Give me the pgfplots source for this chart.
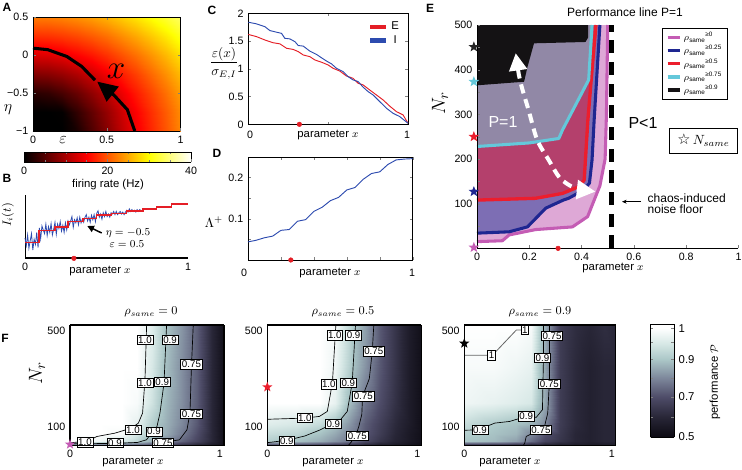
\documentclass[border=0pt]{standalone}
\usepackage{amsmath}
\usepackage{pgfplots}
\pgfplotsset{compat=1.18}
\usepackage{fontspec}
\setmainfont{Liberation Sans}
\newfontfamily\dejavu{DejaVu Sans}
\usetikzlibrary{arrows.meta}

\newcommand{\fs}[1]{\fontsize{#1}{#1}\selectfont}

\definecolor{cE}{RGB}{228,30,38}
\definecolor{cI}{RGB}{45,75,175}
\definecolor{lnA}{RGB}{196,92,180}
\definecolor{fiA}{RGB}{222,168,214}
\definecolor{lnB}{RGB}{30,38,145}
\definecolor{fiB}{RGB}{125,110,180}
\definecolor{lnC}{RGB}{236,30,45}
\definecolor{fiC}{RGB}{180,64,108}
\definecolor{lnD}{RGB}{100,200,218}
\definecolor{fiD}{RGB}{145,136,166}
\definecolor{fiE}{RGB}{20,18,20}

\pgfdeclareplotmark{fstar}{%
  \pgfpathmoveto{\pgfpointpolar{90}{\pgfplotmarksize}}%
  \pgfpathlineto{\pgfpointpolar{126}{0.42\pgfplotmarksize}}%
  \pgfpathlineto{\pgfpointpolar{162}{\pgfplotmarksize}}%
  \pgfpathlineto{\pgfpointpolar{198}{0.42\pgfplotmarksize}}%
  \pgfpathlineto{\pgfpointpolar{234}{\pgfplotmarksize}}%
  \pgfpathlineto{\pgfpointpolar{270}{0.42\pgfplotmarksize}}%
  \pgfpathlineto{\pgfpointpolar{306}{\pgfplotmarksize}}%
  \pgfpathlineto{\pgfpointpolar{342}{0.42\pgfplotmarksize}}%
  \pgfpathlineto{\pgfpointpolar{18}{\pgfplotmarksize}}%
  \pgfpathlineto{\pgfpointpolar{54}{0.42\pgfplotmarksize}}%
  \pgfpathclose\pgfusepathqfill}

\tikzset{clab/.style={draw=black, fill=white, inner sep=0.9pt, font=\fs{7.3}, line width=0.45pt}}

\pgfplotsset{
  colormap={hotm}{rgb255(0)=(0,0,0) rgb255(3)=(255,0,0) rgb255(6)=(255,255,0) rgb255(8)=(255,255,255)},
  colormap={perf}{rgb255(0)=(12,10,18) rgb255(20)=(40,38,55) rgb255(40)=(78,76,104) rgb255(60)=(125,135,155) rgb255(80)=(172,200,200) rgb255(90)=(215,232,230) rgb255(100)=(255,255,255)},
  every axis/.append style={scale only axis, anchor=north west,
    tick label style={font=\fs{8}}, /pgf/number format/assume math mode=true},
  fpanel/.style={view={0}{90}, colormap name=perf, point meta min=0.5, point meta max=1,
    xmin=0, xmax=1.027, ymin=20, ymax=525, xtick={0,1}, ytick={100,500},
    major tick length=0pt, axis line style={line width=1.1pt}, clip=false, axis on top,
    width=115.5pt, height=90.4pt},
}

\begin{document}
\begin{tikzpicture}
\path[use as bounding box] (0pt,0pt) rectangle (556.5pt,-351.75pt);

% ---------- A: firing rate map
\begin{axis}[at={(24.75pt,-12.75pt)}, width=110.6pt, height=85.5pt,
  view={0}{90}, colormap name=hotm, point meta min=0, point meta max=40,
  xmin=0, xmax=1, ymin=-1, ymax=0.5,
  xtick={0,0.5,1}, xticklabels={0,0.5,1},
  ytick={-1,-0.5,0,0.5}, yticklabels={−1,−0.5,0,0.5},
  major tick length=2pt, axis on top, clip=false]
\addplot3[surf, shader=interp, mesh/cols=11] coordinates {
(0,-1,0) (0.1,-1,0) (0.2,-1,0) (0.3,-1,1.5) (0.4,-1,4.7) (0.5,-1,7.9) (0.6,-1,11.1) (0.7,-1,14.3) (0.8,-1,17.2) (0.9,-1,20) (1,-1,22.8)
(0,-0.75,0) (0.1,-0.75,0) (0.2,-0.75,0.2) (0.3,-0.75,2.9) (0.4,-0.75,5.8) (0.5,-0.75,8.8) (0.6,-0.75,11.8) (0.7,-0.75,14.9) (0.8,-0.75,17.7) (0.9,-0.75,20.4) (1,-0.75,23.1)
(0,-0.5,2.4) (0.1,-0.5,2.9) (0.2,-0.5,4.2) (0.3,-0.5,6.1) (0.4,-0.5,8.5) (0.5,-0.5,11) (0.6,-0.5,13.8) (0.7,-0.5,16.5) (0.8,-0.5,19) (0.9,-0.5,21.6) (1,-0.5,24.2)
(0,-0.25,7.6) (0.1,-0.25,8) (0.2,-0.25,8.9) (0.3,-0.25,10.3) (0.4,-0.25,12.2) (0.5,-0.25,14.3) (0.6,-0.25,16.5) (0.7,-0.25,18.7) (0.8,-0.25,21.1) (0.9,-0.25,23.5) (1,-0.25,25.9)
(0,0,12.9) (0.1,0,13.1) (0.2,0,13.8) (0.3,0,15) (0.4,0,16.3) (0.5,0,17.9) (0.6,0,19.7) (0.7,0,21.6) (0.8,0,23.7) (0.9,0,25.9) (1,0,28.2)
(0,0.25,17.7) (0.1,0.25,17.9) (0.2,0.25,18.4) (0.3,0.25,19.2) (0.4,0.25,20.3) (0.5,0.25,21.6) (0.6,0.25,23.2) (0.7,0.25,24.9) (0.8,0.25,26.8) (0.9,0.25,28.8) (1,0.25,30.9)
(0,0.5,22.3) (0.1,0.5,22.4) (0.2,0.5,22.8) (0.3,0.5,23.5) (0.4,0.5,24.4) (0.5,0.5,25.6) (0.6,0.5,27) (0.7,0.5,28.5) (0.8,0.5,30.2) (0.9,0.5,32) (1,0.5,33.9)
};
\addplot3[black, line width=2.3pt] coordinates {(0,0.09,40) (0.1,0.07,40) (0.23,-0.02,40) (0.33,-0.15,40) (0.42,-0.33,40)};
\addplot3[black, line width=2.3pt, -{Triangle[length=15pt,width=14pt]}] coordinates {(0.69,-1,40) (0.64,-0.72,40) (0.55,-0.53,40) (0.435,-0.35,40)};
\end{axis}

% colour bar of A
\begin{axis}[at={(18pt,-114pt)}, width=125.25pt, height=7.5pt, view={0}{90},
  colormap name=hotm, point meta min=0, point meta max=40,
  xmin=0, xmax=40, ymin=0, ymax=1, ytick=\empty, xtick={0,20,40},
  minor xtick={5,10,15,25,30,35}, major tick length=2pt, minor tick length=1.5pt, axis on top]
\addplot3[surf, shader=interp, mesh/cols=9] coordinates {
(0,0,0) (5,0,5) (10,0,10) (15,0,15) (20,0,20) (25,0,25) (30,0,30) (35,0,35) (40,0,40)
(0,1,0) (5,1,5) (10,1,10) (15,1,15) (20,1,20) (25,1,25) (30,1,30) (35,1,35) (40,1,40)
};
\end{axis}

% ---------- B: input current
\begin{axis}[at={(18.75pt,-146.25pt)}, width=122.25pt, height=47.5pt,
  axis lines*=left, xmin=0, xmax=1, ymin=0, ymax=1, xtick=\empty, ytick=\empty, clip=false,
  x axis line style={line width=1.6pt}, y axis line style={line width=0.6pt}]
\addplot[cI, line width=0.6pt] coordinates {
(0,0.32) (0.008,0.20) (0.016,0.37) (0.024,0.16) (0.032,0.28) (0.04,0.39) (0.048,0.13) (0.056,0.30) (0.064,0.22) (0.072,0.41) (0.08,0.17)
(0.088,0.48) (0.096,0.31) (0.104,0.51) (0.112,0.45) (0.12,0.39) (0.128,0.54) (0.136,0.36) (0.144,0.50) (0.152,0.41) (0.16,0.55) (0.168,0.37) (0.176,0.46)
(0.184,0.57) (0.192,0.38) (0.2,0.54) (0.208,0.47) (0.216,0.58) (0.224,0.43) (0.232,0.52) (0.24,0.41) (0.248,0.56) (0.256,0.45) (0.264,0.59)
(0.272,0.53) (0.28,0.59) (0.288,0.66) (0.296,0.49) (0.304,0.61) (0.312,0.56) (0.32,0.64) (0.328,0.53) (0.336,0.65) (0.344,0.56) (0.352,0.62)
(0.36,0.57) (0.368,0.65) (0.376,0.69) (0.384,0.59) (0.392,0.65) (0.4,0.57) (0.408,0.68) (0.416,0.61) (0.424,0.69) (0.432,0.58)
(0.44,0.71) (0.448,0.75) (0.456,0.65) (0.464,0.70) (0.472,0.62) (0.48,0.72) (0.488,0.66) (0.496,0.74) (0.504,0.66) (0.512,0.70) (0.52,0.65) (0.528,0.72)
(0.536,0.70) (0.544,0.74) (0.552,0.69) (0.56,0.74) (0.568,0.69) (0.576,0.72) (0.584,0.74) (0.592,0.70) (0.6,0.73) (0.608,0.69) (0.616,0.73)
(0.624,0.76) (0.632,0.73) (0.64,0.78) (0.648,0.74) (0.656,0.77) (0.664,0.74) (0.672,0.76) (0.68,0.73) (0.688,0.77) (0.696,0.74) (0.704,0.77) (0.712,0.75) (0.72,0.76)
};
\addplot[cE, line width=1.3pt, const plot] coordinates {
(0,0.25) (0.088,0.44) (0.184,0.49) (0.265,0.58) (0.357,0.63) (0.439,0.68) (0.531,0.71) (0.622,0.75) (0.724,0.78) (0.806,0.81) (0.898,0.86) (1,0.86)};
\addplot[only marks, mark=*, mark size=1.7pt, cE] coordinates {(0.3,0)};
\end{axis}

% ---------- C: epsilon(x)/sigma
\begin{axis}[at={(186.2pt,-10pt)}, width=119.8pt, height=83.25pt,
  xmin=0, xmax=1, ymin=0, ymax=2, xtick={0,0.5,1}, xticklabels={,,},
  ytick={0,0.5,1,1.5,2}, major tick length=2pt, clip=false,
  legend style={draw=none, fill=none, at={(0.97,0.96)}, anchor=north east, font=\fs{8.5},
    row sep=-1pt, inner sep=1pt},
  legend image code/.code={\draw[#1, line width=3.5pt] (0pt,0pt) -- (12pt,0pt);}]
\addplot[cE, line width=0.7pt] coordinates {
(0,1.62) (0.052,1.58) (0.104,1.52) (0.156,1.47) (0.198,1.45) (0.24,1.37) (0.281,1.35) (0.313,1.31) (0.344,1.25) (0.385,1.22) (0.417,1.16) (0.458,1.12) (0.5,1.07) (0.531,1.01) (0.573,0.96) (0.615,0.87) (0.656,0.83) (0.688,0.74) (0.719,0.71) (0.76,0.62) (0.802,0.53) (0.844,0.44) (0.885,0.33) (0.927,0.23) (0.969,0.17) (1,0.02)};
\addlegendentry{E}
\addplot[cI, line width=0.7pt] coordinates {
(0,1.84) (0.052,1.81) (0.104,1.76) (0.135,1.69) (0.177,1.66) (0.208,1.64) (0.229,1.55) (0.26,1.54) (0.292,1.49) (0.313,1.42) (0.344,1.41) (0.385,1.32) (0.427,1.26) (0.458,1.20) (0.49,1.14) (0.521,1.09) (0.552,1.01) (0.594,0.95) (0.625,0.86) (0.656,0.80) (0.688,0.77) (0.719,0.67) (0.75,0.59) (0.781,0.53) (0.823,0.41) (0.865,0.29) (0.906,0.20) (0.948,0.14) (1,0.02)};
\addlegendentry{I}
\addplot[only marks, mark=*, mark size=1.7pt, cE, forget plot] coordinates {(0.32,0)};
\end{axis}

% ---------- D: Lyapunov exponent
\begin{axis}[at={(186pt,-117.75pt)}, width=123.5pt, height=77.25pt,
  xmin=0, xmax=1, ymin=0, ymax=0.25, xtick={0,0.2,0.4,0.6,0.8,1}, xticklabels={,,,,,},
  ytick={0.1,0.2}, minor ytick={0.05,0.15}, major tick length=2pt, minor tick length=2pt, clip=false]
\addplot[cI, line width=0.7pt] coordinates {
(0,0.044) (0.05,0.048) (0.1,0.054) (0.15,0.058) (0.2,0.072) (0.25,0.074) (0.3,0.094) (0.35,0.098) (0.4,0.118) (0.45,0.128) (0.5,0.144) (0.55,0.152) (0.6,0.170) (0.65,0.176) (0.7,0.196) (0.75,0.210) (0.8,0.214) (0.85,0.232) (0.9,0.243) (0.95,0.245) (1,0.246)};
\addplot[only marks, mark=*, mark size=1.7pt, cE] coordinates {(0.26,0)};
\end{axis}

% ---------- E: performance line P=1
\begin{axis}[at={(357.75pt,-18.75pt)}, width=196.1pt, height=167.5pt,
  xmin=0, xmax=1, ymin=0, ymax=500, axis lines*=left, clip=false, axis on top,
  xtick={0,0.2,0.4,0.6,0.8,1}, xticklabels={0,0.2,0.4,0.6,0.8,1},
  ytick={100,200,300,400,500}, minor ytick={50,150,250,350,450},
  major tick length=2.5pt, minor tick length=2pt,
  tick label style={font=\fs{8}},
  legend style={at={(0.707,0.985)}, anchor=north west, font=\fs{6.8}, draw=black,
    line width=0.4pt, inner xsep=3pt, inner ysep=1.5pt, row sep=-0.6pt, legend cell align=left,
    nodes={inner sep=1.3pt}},
  legend image code/.code={\draw[#1] (0pt,0pt) -- (9.5pt,0pt);}]
\addlegendimage{lnA, line width=2.4pt}
\addlegendentry{$\rho$\textsubscript{same}\textsuperscript{≥0}}
\addlegendimage{lnB, line width=2.4pt}
\addlegendentry{$\rho$\textsubscript{same}\textsuperscript{≥0.25}}
\addlegendimage{lnC, line width=2.4pt}
\addlegendentry{$\rho$\textsubscript{same}\textsuperscript{≥0.5}}
\addlegendimage{lnD, line width=2.4pt}
\addlegendentry{$\rho$\textsubscript{same}\textsuperscript{≥0.75}}
\addlegendimage{fiE, line width=2.4pt}
\addlegendentry{$\rho$\textsubscript{same}\textsuperscript{≥0.9}}
% filled regions, largest first
\addplot[fill=fiA, draw=none, forget plot] coordinates {(0,15) (0.097,17) (0.123,30) (0.224,42) (0.365,48) (0.423,71) (0.47,140) (0.49,200) (0.495,300) (0.5,500) (0,500)} -- cycle;
\addplot[fill=fiB, draw=none, forget plot] coordinates {(0,34) (0.123,37) (0.193,48) (0.263,90) (0.33,108) (0.35,112) (0.407,130) (0.43,146) (0.44,198) (0.448,287) (0.47,500) (0,500)} -- cycle;
\addplot[fill=fiC, draw=none, forget plot] coordinates {(0,108) (0.224,112) (0.327,123) (0.39,138) (0.41,153) (0.424,287) (0.44,400) (0.455,500) (0,500)} -- cycle;
\addplot[fill=fiD, draw=none, forget plot] coordinates {(0,228) (0.2,236) (0.313,246) (0.327,265) (0.427,377) (0.44,500) (0,500)} -- cycle;
\addplot[fill=fiE, draw=none, forget plot] coordinates {(0,365) (0.18,373) (0.193,406) (0.218,459) (0.415,462) (0.425,472) (0.425,500) (0,500)} -- cycle;
% boundary lines
\addplot[lnA, line width=2.3pt, line join=round, forget plot] coordinates {(0,15) (0.097,17) (0.123,30) (0.224,42) (0.365,48) (0.423,71) (0.47,140) (0.49,200) (0.495,300) (0.5,500)};
\addplot[lnB, line width=2.3pt, line join=round, forget plot] coordinates {(0,34) (0.123,37) (0.193,48) (0.263,90) (0.33,108) (0.35,112) (0.407,130) (0.43,146) (0.44,198) (0.448,287) (0.47,500)};
\addplot[lnC, line width=2.5pt, line join=round, forget plot] coordinates {(0,108) (0.224,112) (0.327,123) (0.39,138) (0.41,153) (0.424,287) (0.44,400) (0.455,500)};
\addplot[lnD, line width=2.3pt, line join=round, forget plot] coordinates {(0,228) (0.2,236) (0.313,246) (0.327,265) (0.427,377) (0.44,500)};
% noise floor
\addplot[black, line width=3.75pt, dash pattern=on 9.75pt off 6.5pt, forget plot] coordinates {(0.515,0) (0.515,500)};
% white double arrow
\addplot[white, line width=3pt, dash pattern=on 7pt off 4.5pt, smooth,
  {Triangle[length=13pt,width=13pt]}-{Triangle[length=14pt,width=14pt]}, forget plot]
  coordinates {(0.148,437) (0.166,373) (0.197,310) (0.23,243) (0.274,198) (0.318,157) (0.375,135) (0.453,127)};
% N_same stars
\addplot[only marks, mark=fstar, mark size=4.2pt, lnA, forget plot] coordinates {(-0.012,2)};
\addplot[only marks, mark=fstar, mark size=4.2pt, lnB, forget plot] coordinates {(-0.012,127)};
\addplot[only marks, mark=fstar, mark size=4.2pt, lnC, forget plot] coordinates {(-0.012,250)};
\addplot[only marks, mark=fstar, mark size=4.2pt, lnD, forget plot] coordinates {(-0.012,373)};
\addplot[only marks, mark=fstar, mark size=4.2pt, black!85, forget plot] coordinates {(-0.012,451)};
\addplot[only marks, mark=*, mark size=1.7pt, cE, forget plot] coordinates {(0.31,0)};
\end{axis}

% ---------- F: performance maps
\begin{axis}[fpanel, at={(52.5pt,-243.75pt)}]
\addplot3[surf, shader=interp, mesh/cols=10] coordinates {
(0,20,0.70) (0.2,20,0.70) (0.35,20,0.68) (0.45,20,0.66) (0.55,20,0.64) (0.65,20,0.62) (0.75,20,0.60) (0.85,20,0.57) (0.95,20,0.54) (1.027,20,0.50)
(0,40,1) (0.2,40,0.98) (0.35,40,0.95) (0.45,40,0.92) (0.55,40,0.86) (0.65,40,0.80) (0.75,40,0.74) (0.85,40,0.68) (0.95,40,0.60) (1.027,40,0.52)
(0,70,1) (0.2,70,1) (0.35,70,0.99) (0.45,70,0.95) (0.55,70,0.90) (0.65,70,0.85) (0.75,70,0.78) (0.85,70,0.70) (0.95,70,0.60) (1.027,70,0.52)
(0,110,1) (0.2,110,1) (0.35,110,1) (0.45,110,0.97) (0.55,110,0.91) (0.65,110,0.86) (0.75,110,0.80) (0.85,110,0.72) (0.95,110,0.60) (1.027,110,0.52)
(0,200,1) (0.2,200,1) (0.35,200,1) (0.45,200,0.99) (0.55,200,0.94) (0.65,200,0.87) (0.75,200,0.81) (0.85,200,0.73) (0.95,200,0.60) (1.027,200,0.52)
(0,350,1) (0.2,350,1) (0.35,350,1) (0.45,350,1) (0.55,350,0.95) (0.65,350,0.88) (0.75,350,0.81) (0.85,350,0.73) (0.95,350,0.60) (1.027,350,0.52)
(0,525,1) (0.2,525,1) (0.35,525,1) (0.45,525,1) (0.55,525,0.96) (0.65,525,0.89) (0.75,525,0.82) (0.85,525,0.73) (0.95,525,0.60) (1.027,525,0.52)
};
\addplot3[black, line width=0.5pt] coordinates {(0.511,525,1) (0.50,296,1) (0.484,156,1) (0.456,114,1) (0.41,93,1) (0.3,72,1) (0.18,58,1) (0.12,40,1) (0,31,1)};
\addplot3[black, line width=0.5pt] coordinates {(0.644,525,1) (0.627,282,1) (0.60,156,1) (0.58,100,1) (0.544,72,1) (0.51,44,1) (0.45,33,1) (0.3,29,1) (0,27,1)};
\addplot3[black, line width=0.5pt] coordinates {(0.822,525,1) (0.81,352,1) (0.80,156,1) (0.78,86,1) (0.73,44,1) (0.62,33,1) (0.55,20,1)};
\node[clab] at (axis cs:0.5,463,1) {1.0};
\node[clab] at (axis cs:0.667,463,1) {0.9};
\node[clab] at (axis cs:0.81,360,1) {0.75};
\node[clab] at (axis cs:0.5,282,1) {1.0};
\node[clab] at (axis cs:0.615,287,1) {0.9};
\node[clab] at (axis cs:0.81,152,1) {0.75};
\node[clab] at (axis cs:0.42,86,1) {1.0};
\node[clab] at (axis cs:0.56,79,1) {0.9};
\node[clab] at (axis cs:0.1,33,1) {1.0};
\node[clab] at (axis cs:0.3,30,1) {0.9};
\node[clab] at (axis cs:0.62,30,1) {0.75};
\addplot3[only marks, mark=fstar, mark size=4pt, lnA] coordinates {(0,25,1)};
\end{axis}

\begin{axis}[fpanel, at={(200.5pt,-243.75pt)}]
\addplot3[surf, shader=interp, mesh/cols=10] coordinates {
(0,20,0.62) (0.2,20,0.62) (0.35,20,0.61) (0.45,20,0.60) (0.55,20,0.59) (0.65,20,0.57) (0.75,20,0.55) (0.85,20,0.54) (0.95,20,0.52) (1.027,20,0.50)
(0,40,0.91) (0.2,40,0.89) (0.35,40,0.86) (0.45,40,0.82) (0.55,40,0.77) (0.65,40,0.70) (0.75,40,0.64) (0.85,40,0.59) (0.95,40,0.55) (1.027,40,0.52)
(0,70,0.93) (0.2,70,0.92) (0.35,70,0.89) (0.45,70,0.85) (0.55,70,0.79) (0.65,70,0.72) (0.75,70,0.66) (0.85,70,0.60) (0.95,70,0.55) (1.027,70,0.52)
(0,110,0.96) (0.2,110,0.95) (0.35,110,0.93) (0.45,110,0.89) (0.55,110,0.82) (0.65,110,0.73) (0.75,110,0.67) (0.85,110,0.61) (0.95,110,0.56) (1.027,110,0.52)
(0,200,1) (0.2,200,1) (0.35,200,1) (0.45,200,0.97) (0.55,200,0.88) (0.65,200,0.77) (0.75,200,0.70) (0.85,200,0.63) (0.95,200,0.56) (1.027,200,0.52)
(0,350,1) (0.2,350,1) (0.35,350,1) (0.45,350,0.98) (0.55,350,0.91) (0.65,350,0.82) (0.75,350,0.72) (0.85,350,0.64) (0.95,350,0.56) (1.027,350,0.52)
(0,525,1) (0.2,525,1) (0.35,525,1) (0.45,525,0.99) (0.55,525,0.92) (0.65,525,0.84) (0.75,525,0.72) (0.85,525,0.64) (0.95,525,0.56) (1.027,525,0.52)
};
\addplot3[black, line width=0.5pt] coordinates {(0.457,525,1) (0.434,283,1) (0.40,163,1) (0.347,142,1) (0.25,135,1) (0,130,1)};
\addplot3[black, line width=0.5pt] coordinates {(0.588,525,1) (0.566,283,1) (0.533,163,1) (0.49,130,1) (0.434,112,1) (0.35,85,1) (0.25,60,1) (0.13,42,1) (0,32,1)};
\addplot3[black, line width=0.5pt] coordinates {(0.71,525,1) (0.70,415,1) (0.68,300,1) (0.635,226,1) (0.63,150,1) (0.61,100,1) (0.59,61,1) (0.56,35,1) (0.54,20,1)};
\node[clab] at (axis cs:0.575,482,1) {0.9};
\node[clab] at (axis cs:0.45,482,1) {1.0};
\node[clab] at (axis cs:0.71,415,1) {0.75};
\node[clab] at (axis cs:0.41,276,1) {1.0};
\node[clab] at (axis cs:0.54,283,1) {0.9};
\node[clab] at (axis cs:0.64,226,1) {0.75};
\node[clab] at (axis cs:0.25,135,1) {1.0};
\node[clab] at (axis cs:0.44,110,1) {0.9};
\node[clab] at (axis cs:0.6,61,1) {0.75};
\node[clab] at (axis cs:0.13,40,1) {0.9};
\addplot3[only marks, mark=fstar, mark size=4pt, lnC] coordinates {(0,265,1)};
\end{axis}

\begin{axis}[fpanel, at={(348.2pt,-243.75pt)}, width=113.6pt]
\addplot3[surf, shader=interp, mesh/cols=10] coordinates {
(0,20,0.55) (0.2,20,0.55) (0.35,20,0.55) (0.45,20,0.55) (0.55,20,0.55) (0.65,20,0.55) (0.75,20,0.55) (0.85,20,0.55) (0.95,20,0.55) (1.027,20,0.55)
(0,40,0.90) (0.2,40,0.88) (0.35,40,0.84) (0.45,40,0.76) (0.55,40,0.68) (0.65,40,0.64) (0.75,40,0.60) (0.85,40,0.58) (0.95,40,0.60) (1.027,40,0.60)
(0,70,0.91) (0.2,70,0.89) (0.35,70,0.87) (0.45,70,0.80) (0.55,70,0.71) (0.65,70,0.65) (0.75,70,0.60) (0.85,70,0.58) (0.95,70,0.60) (1.027,70,0.60)
(0,110,0.93) (0.2,110,0.905) (0.35,110,0.89) (0.45,110,0.87) (0.55,110,0.80) (0.65,110,0.66) (0.75,110,0.61) (0.85,110,0.58) (0.95,110,0.60) (1.027,110,0.60)
(0,200,0.98) (0.2,200,0.97) (0.35,200,0.96) (0.45,200,0.95) (0.55,200,0.85) (0.65,200,0.66) (0.75,200,0.61) (0.85,200,0.58) (0.95,200,0.60) (1.027,200,0.60)
(0,350,0.99) (0.2,350,0.99) (0.35,350,0.98) (0.45,350,0.97) (0.55,350,0.85) (0.65,350,0.66) (0.75,350,0.61) (0.85,350,0.58) (0.95,350,0.60) (1.027,350,0.60)
(0,525,1) (0.2,525,1) (0.35,525,1) (0.45,525,0.99) (0.55,525,0.86) (0.65,525,0.66) (0.75,525,0.62) (0.85,525,0.60) (0.95,525,0.62) (1.027,525,0.60)
};
\addplot3[black!60, line width=0.6pt] coordinates {(0,398,1) (0.162,398,1) (0.218,416,1) (0.353,504,1) (0.41,504,1)};
\addplot3[black, line width=0.5pt] coordinates {(0.537,525,1) (0.537,388,1) (0.53,170,1) (0.488,138,1) (0.42,142,1) (0.308,121,1) (0.207,114,1) (0.15,100,1) (0.106,86,1) (0,84,1)};
\addplot3[black, line width=0.5pt] coordinates {(0.578,525,1) (0.578,297,1) (0.566,156,1) (0.544,100,1) (0.488,79,1) (0.42,58,1) (0.41,30,1) (0.40,20,1)};
\node[clab] at (axis cs:0.185,398,1) {1};
\node[clab] at (axis cs:0.41,504,1) {1};
\node[clab] at (axis cs:0.595,479,1) {0.75};
\node[clab] at (axis cs:0.53,388,1) {0.9};
\node[clab] at (axis cs:0.577,278,1) {0.75};
\node[clab] at (axis cs:0.42,142,1) {0.9};
\node[clab] at (axis cs:0.52,86,1) {0.75};
\node[clab] at (axis cs:0.106,86,1) {0.9};
\addplot3[only marks, mark=fstar, mark size=4pt, black] coordinates {(0,448,1)};
\end{axis}

% colour bar of F
\begin{axis}[at={(488pt,-243pt)}, width=17.5pt, height=85pt, view={0}{90},
  colormap name=perf, point meta min=0.5, point meta max=1,
  xmin=0, xmax=1, ymin=0.5, ymax=1, xtick=\empty,
  ytick={0.503,0.679,0.844,0.981}, yticklabels={0.5,0.7,0.9,1}, yticklabel pos=right,
  minor ytick={0.59,0.76,0.92}, major tick length=2pt, minor tick length=2pt,
  tick label style={font=\fs{8.5}}, axis on top]
\addplot3[surf, shader=interp, mesh/cols=2] coordinates {
(0,0.5,0.5) (1,0.5,0.5)
(0,0.679,0.7) (1,0.679,0.7)
(0,0.844,0.9) (1,0.844,0.9)
(0,0.981,1) (1,0.981,1)
(0,1,1) (1,1,1)
};
\end{axis}

% ---------- texts in pixel coordinates
\begin{scope}[x=0.75pt, y=-0.75pt]
\node[font=\bfseries\fs{9}] at (7,7) {A};
\node[font=\bfseries\fs{9}] at (7,178) {B};
\node[font=\bfseries\fs{9}] at (212,10) {C};
\node[font=\bfseries\fs{9}] at (217,153) {D};
\node[font=\bfseries\fs{9}] at (430,8) {E};
\node[font=\bfseries\fs{9}] at (5,338) {F};
% A
\node[font=\fs{13}] at (63,140) {$\varepsilon$};
\node[font=\fs{13}] at (8,110) {$\eta$};
\node[font=\fs{24}] at (116,71) {$x$};
\node[font=\fs{8.5}] at (108,185) {firing rate (Hz)};
% B
\node[rotate=90, font=\fs{9}] at (8,215) {$I_i(t)$};
\node[font=\fs{8}] at (25,267) {0};
\node[font=\fs{8}] at (188,267) {1};
\node[font=\fs{8.5}] at (100,271) {parameter $x$};
\node[font=\fs{8}] at (128,233) {$\eta=-0.5$};
\node[font=\fs{8}] at (127,244) {$\varepsilon=0.5$};
\draw[line width=1.1pt, -{Triangle[length=5pt,width=5pt]}] (101.7,233) -- (87.3,226);
% C
\node[font=\fs{10}] at (224,63) {$\dfrac{\varepsilon(x)}{\sigma_{E,I}}$};
\node[font=\fs{8}] at (250,135) {0};
\node[font=\fs{8}] at (407,135) {1};
\node[font=\fs{8.5}] at (328,135) {parameter $x$};
% D
\node[font=\fs{10}] at (214,222) {$\Lambda^{+}$};
\node[font=\fs{8}] at (244,273) {0};
\node[font=\fs{8}] at (412,273) {1};
\node[font=\fs{8.5}] at (330,273) {parameter $x$};
% E
\node[font=\fs{9}] at (625,12) {Performance line P=1};
\node[rotate=90, font=\fs{15}] at (440,103) {$N_r$};
\node[font=\fs{8.5}] at (613,268) {parameter $x$};
\node[text=white, font=\fs{12}] at (503,122) {P=1};
\node[font=\fs{12}] at (643,123) {P<1};
\node[draw, line width=0.4pt, fill=white, minimum width=51pt, minimum height=18.75pt] at (703.5,140.5) {{\dejavu\fs{11}☆}\,{\fs{10}$N_{same}$}};
\node[font=\fs{9}, align=left, anchor=west] at (643,204) {chaos-induced\\[-1pt]noise floor};
\draw[line width=0.5pt, -{Stealth[length=3.5pt,width=3pt]}] (641,201.7) -- (622,201.7);
% F
\node[font=\fs{9}] at (151,312) {$\rho_{same}=0$};
\node[font=\fs{9}] at (343,312) {$\rho_{same}=0.5$};
\node[font=\fs{9}] at (540,312) {$\rho_{same}=0.9$};
\node[rotate=90, font=\fs{15}] at (37,373) {$N_r$};
\node[font=\fs{8.5}] at (133,462) {parameter $x$};
\node[font=\fs{8.5}] at (333,462) {parameter $x$};
\node[font=\fs{8.5}] at (510,462) {parameter $x$};
\node[rotate=90, font=\fs{8.5}] at (715,382) {performance $\mathcal{P}$};
\end{scope}
\end{tikzpicture}
\end{document}
